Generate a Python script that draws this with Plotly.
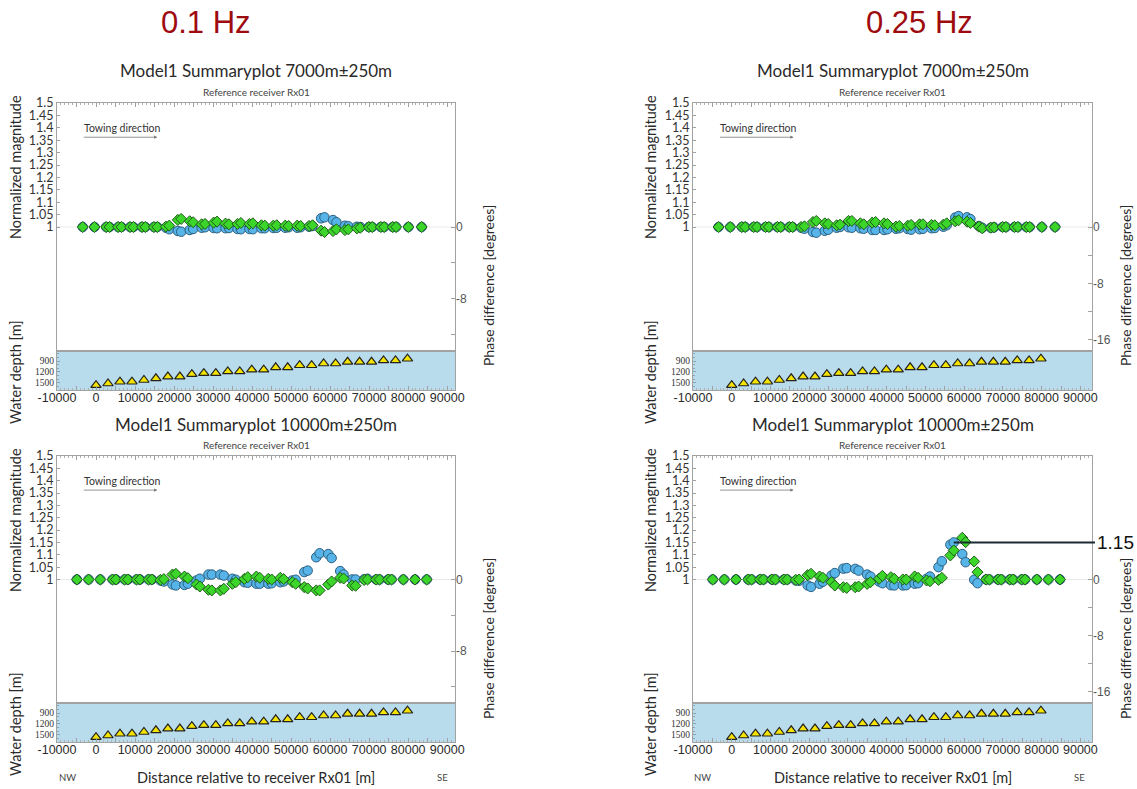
import plotly.graph_objects as go

W, H = 1137, 789

# ---------------- data ----------------
FREQ_LABELS = ["0.1 Hz", "0.25 Hz"]
TITLES = ["Model1 Summaryplot 7000m\u00b1250m", "Model1 Summaryplot 10000m\u00b1250m"]
SUBTITLE = "Reference receiver Rx01"

# receiver positions along the line [m] and seabed depth at each receiver [m]
RX_POS = [0, 3070, 6140, 9210, 12280, 15350, 18420, 21490, 24560, 27630, 30700,
          33770, 36840, 39910, 42980, 46050, 49120, 52190, 55260, 58330, 61400,
          64470, 67540, 70610, 73680, 76750, 79820]
WATER_DEPTH = [1566, 1520, 1471, 1471, 1423, 1377, 1329, 1329, 1263, 1234, 1234,
               1186, 1186, 1137, 1137, 1071, 1071, 1014, 1014, 966, 966,
               920, 920, 920, 880, 880, 834]

# midpoint positions of the source-receiver pairs for each offset class [m]
OFFSET_7000 = [-3400, -400,
               2600, 3470, 5660, 6530, 8720, 9590, 11780, 12650, 14840, 15710,
               17900, 18770, 20960, 21830, 24020, 24890, 27080, 27950, 30140, 31010,
               33200, 34070, 36260, 37130, 39320, 40190, 42380, 43250, 45440, 46310,
               48500, 49370, 51560, 52430, 54620, 55490, 57680, 58550, 60740, 61610,
               63800, 64670, 66860, 67730, 69920, 70790, 72980, 73850, 76040, 76910,
               80050, 83460]
OFFSET_10000 = [-4900, -1900, 1100,
                4250, 5120, 7320, 8190, 10390, 11260, 13460, 14330, 16530, 17400,
                19600, 20470, 22670, 23540, 25740, 26610, 28810, 29680, 31880, 32750,
                34950, 35820, 38020, 38890, 41090, 41960, 44160, 45030, 47230, 48100,
                50300, 51170, 53370, 54240, 56440, 57310, 59510, 60380, 62580, 63450,
                65650, 66520, 68720, 69590, 71790, 72660, 74860, 75730,
                78760, 81750, 84740]

# normalized magnitude and phase difference [degrees]
MAG_7000_F01 = [1.000, 1.000, 1.000, 1.000, 1.000, 1.000, 1.000, 1.000, 1.000, 1.000,
                1.000, 1.000, 0.997, 0.991, 0.984, 0.981, 0.988, 0.992, 0.997, 0.999,
                0.996, 0.995, 0.995, 0.996, 0.992, 0.991, 0.992, 0.991, 0.995, 0.995,
                0.996, 0.997, 0.997, 0.999, 0.997, 0.999, 1.001, 1.004, 1.035, 1.039,
                1.028, 1.019, 1.005, 1.003, 1.001, 1.000, 1.000, 1.000, 1.000, 1.000,
                1.000, 1.000, 1.000, 1.000]
PHASE_7000_F01 = [0.0, 0.0, 0.0, 0.0, 0.0, 0.0, 0.0, 0.0, 0.0, 0.0,
                  0.0, 0.0, 0.04, 0.15, 0.79, 0.90, 0.64, 0.53, 0.30, 0.34,
                  0.49, 0.60, 0.38, 0.30, 0.34, 0.45, 0.34, 0.41, 0.19, 0.15,
                  0.15, 0.19, 0.15, 0.11, 0.15, 0.11, 0.11, 0.19, -0.41, -0.56,
                  -0.45, -0.26, -0.34, -0.26, -0.15, -0.08, 0.0, 0.0, 0.0, 0.0,
                  0.0, 0.0, 0.0, 0.0]
MAG_7000_F025 = [1.000, 1.000, 1.000, 1.000, 1.000, 1.000, 1.000, 1.000, 1.000, 1.000,
                 1.000, 1.000, 0.997, 0.993, 0.980, 0.977, 0.985, 0.989, 0.997, 1.000,
                 0.999, 0.997, 0.995, 0.993, 0.988, 0.988, 0.988, 0.991, 0.993, 0.995,
                 0.992, 0.989, 0.991, 0.993, 0.995, 0.996, 1.001, 1.007, 1.038, 1.044,
                 1.039, 1.032, 1.004, 0.997, 0.997, 0.999, 1.000, 1.000, 1.000, 1.000,
                 1.000, 1.000, 1.000, 1.000]
PHASE_7000_F025 = [0.0, 0.0, 0.0, 0.0, 0.0, 0.0, 0.0, 0.0, 0.0, 0.0,
                   0.0, 0.0, 0.0, 0.10, 0.71, 0.86, 0.52, 0.43, 0.24, 0.33,
                   0.86, 0.86, 0.52, 0.38, 0.62, 0.71, 0.52, 0.43, 0.05, 0.14,
                   0.19, 0.29, 0.38, 0.38, 0.29, 0.24, 0.33, 0.52, 0.81, 0.95,
                   0.76, 0.57, 0.05, -0.19, -0.10, -0.05, 0.0, 0.0, 0.0, 0.0,
                   0.0, 0.0, 0.0, 0.0]
MAG_10000_F01 = [1.000, 1.000, 1.000, 1.000, 1.000, 1.000, 1.000, 1.000, 1.000, 1.000,
                 1.000, 0.996, 0.992, 0.980, 0.976, 0.978, 0.983, 0.996, 1.003, 1.020,
                 1.020, 1.020, 1.016, 1.003, 0.999, 0.989, 0.987, 0.983, 0.983, 0.983,
                 0.985, 0.989, 0.992, 0.996, 0.999, 1.030, 1.036, 1.090, 1.106, 1.103,
                 1.087, 1.034, 1.020, 1.000, 1.000, 1.001, 1.003, 1.000, 1.000, 1.000,
                 1.000, 1.000, 1.000, 1.000]
PHASE_10000_F01 = [0.0, 0.0, 0.0, 0.0, 0.0, 0.0, 0.0, 0.0, 0.0, 0.0,
                   0.0, -0.04, 0.04, 0.56, 0.63, 0.33, 0.15, -0.56, -0.78, -1.15,
                   -1.22, -1.22, -1.04, -0.48, -0.30, 0.07, 0.26, 0.33, 0.19, 0.07,
                   0.0, 0.19, 0.04, -0.30, -0.48, -0.85, -1.00, -1.22, -1.22, -0.56,
                   -0.22, 0.19, 0.11, -0.67, -0.70, -0.04, 0.0, 0.0, 0.0, 0.0,
                   0.0, 0.0, 0.0, 0.0]
MAG_10000_F025 = [1.000, 1.000, 1.000, 1.000, 1.000, 1.000, 1.000, 1.000, 1.000, 1.000,
                  1.000, 0.996, 0.995, 0.976, 0.970, 0.983, 0.991, 1.016, 1.026, 1.044,
                  1.046, 1.043, 1.036, 1.020, 1.012, 0.992, 0.985, 0.977, 0.976, 0.976,
                  0.977, 0.983, 0.985, 1.003, 1.012, 1.050, 1.074, 1.141, 1.150, 1.103,
                  1.070, 0.999, 0.985, 1.000, 1.000, 1.000, 1.000, 1.000, 1.000, 1.000,
                  1.000, 1.000, 1.000, 1.000]
PHASE_10000_F025 = [0.0, 0.0, 0.0, 0.0, 0.0, 0.0, 0.0, 0.0, 0.0, 0.0,
                    0.0, -0.05, 0.0, 0.62, 0.81, 0.43, 0.24, -0.38, -0.86, -1.10,
                    -1.19, -1.10, -1.00, -0.62, -0.38, 0.10, 0.52, 0.33, 0.10, 0.0,
                    0.0, 0.43, 0.24, -0.14, -0.24, -0.05, 0.24, 3.43, 4.14, 5.95,
                    5.33, 2.57, 1.05, 0.0, 0.0, 0.0, 0.0, 0.0, 0.0, 0.0,
                    0.0, 0.0, 0.0, 0.0]

MAG_TICKS = [1.0, 1.05, 1.1, 1.15, 1.2, 1.25, 1.3, 1.35, 1.4, 1.45, 1.5]
MAG_TICK_TEXT = ["1", "1.05", "1.1", "1.15", "1.2", "1.25", "1.3", "1.35", "1.4", "1.45", "1.5"]
DIST_TICKS = [-10000, 0, 10000, 20000, 30000, 40000, 50000, 60000, 70000, 80000, 90000]
DEPTH_TICKS = [900, 1200, 1500]
PHASE_TICKS = [0, -8, -16]

# ---------------- styling ----------------
SANS = "Lato"
ARIAL = "Liberation Sans"
FRAME = "#a2a2a2"
TXT = "#2a2a2a"

COL_X = [(57, 455), (693, 1092)]           # panel left/right in px
ROW_Y = [(103, 351, 390), (456, 703, 742)]  # main top, strip top, strip bottom in px
X_RANGE = [(-10000, 92000), (-10000, 93000)]
PHASE_LIM = [13.8, 17.6]
DEPTH_RANGE = [1700, 620]


def fx(px):
    return px / W


def fy(py):
    return 1 - py / H


def axname(letter, n):
    return f"{letter}axis" if n == 1 else f"{letter}axis{n}"


def axid(letter, n):
    return letter if n == 1 else f"{letter}{n}"


def label(text, px, py, size, color=TXT, family=SANS, angle=0, anchor="center"):
    return dict(text=text, x=fx(px), y=fy(py), xref="paper", yref="paper",
                xanchor=anchor, yanchor="middle", showarrow=False, textangle=angle,
                font=dict(family=family, size=size, color=color))


panels = [
    (0, 0, OFFSET_7000, MAG_7000_F01, PHASE_7000_F01),
    (0, 1, OFFSET_7000, MAG_7000_F025, PHASE_7000_F025),
    (1, 0, OFFSET_10000, MAG_10000_F01, PHASE_10000_F01),
    (1, 1, OFFSET_10000, MAG_10000_F025, PHASE_10000_F025),
]

fig = go.Figure()
layout = dict(width=W, height=H, margin=dict(l=0, r=0, t=0, b=0, autoexpand=False),
              paper_bgcolor="white", plot_bgcolor="white", showlegend=False)
annotations = []
shapes = []

for p, (row, col, offs, mag, phase) in enumerate(panels):
    xa, xb = 2 * p + 1, 2 * p + 2
    ya, yb, yc = 3 * p + 1, 3 * p + 2, 3 * p + 3
    x0, x1 = COL_X[col]
    top, mid, bot = ROW_Y[row]
    xr = list(X_RANGE[col])
    lim = PHASE_LIM[col]
    dom_x = [fx(x0), fx(x1)]

    minor_x = dict(ticks="inside", ticklen=2, tickmode="linear", tick0=0, dtick=1000,
                   tickcolor="#b0b0b0", showgrid=False)
    ruler_vals = list(range(-10000, 95000, 5000))

    # top ruler axis for the magnitude/phase panel
    layout[axname("x", xa)] = dict(
        domain=dom_x, range=xr, anchor=axid("y", ya), side="top", automargin=False,
        showline=True, linecolor=FRAME, linewidth=1, mirror=True,
        ticks="inside", ticklen=4, tickcolor="#a0a0a0", tickmode="array",
        tickvals=ruler_vals, showticklabels=False, minor=minor_x,
        showgrid=False, zeroline=False)
    # bottom distance axis under the water-depth strip
    layout[axname("x", xb)] = dict(
        domain=dom_x, range=xr, anchor=axid("y", yc), side="bottom", automargin=False,
        showline=True, linecolor=FRAME, linewidth=1, mirror=True,
        ticks="inside", ticklen=4, tickcolor="#a0a0a0", tickmode="array",
        tickvals=ruler_vals,
        ticktext=[str(v) if v in DIST_TICKS else "" for v in ruler_vals],
        tickfont=dict(family=ARIAL, size=12.5, color=TXT), ticklabelstandoff=-4,
        minor=minor_x, showgrid=False, zeroline=False)
    # normalized magnitude (left)
    layout[axname("y", ya)] = dict(
        domain=[fy(mid), fy(top)], range=[0.5, 1.5], anchor=axid("x", xa), automargin=False,
        showline=True, linecolor=FRAME, linewidth=1, mirror=True,
        ticks="inside", ticklen=3, tickcolor="#a0a0a0", tickmode="array",
        tickvals=MAG_TICKS, ticktext=MAG_TICK_TEXT,
        tickfont=dict(family=SANS, size=12.5, color="#333333"),
        showgrid=False, zeroline=False)
    # phase difference (right)
    ph_vals = [v for v in [0, -4, -8, -12, -16] if v >= -lim]
    layout[axname("y", yb)] = dict(
        overlaying=axid("y", ya), side="right", anchor=axid("x", xa), automargin=False,
        range=[-lim, lim], showline=False, ticks="inside", ticklen=4,
        tickcolor="#a0a0a0", tickmode="array", tickvals=ph_vals,
        ticktext=[str(v) if v in PHASE_TICKS else "" for v in ph_vals],
        tickfont=dict(family=ARIAL, size=12, color="#555555"),
        showgrid=False, zeroline=False)
    # water depth strip
    layout[axname("y", yc)] = dict(
        domain=[fy(bot), fy(mid)], range=DEPTH_RANGE, anchor=axid("x", xb), automargin=False,
        showline=True, linecolor=FRAME, linewidth=1, mirror=True,
        ticks="inside", ticklen=3, tickcolor="#8aa6b3", tickmode="array",
        tickvals=DEPTH_TICKS, ticktext=[str(v) for v in DEPTH_TICKS],
        tickfont=dict(family="Liberation Serif", size=9.5, color="#333333"),
        minor=dict(ticks="inside", ticklen=2, tickmode="linear", tick0=0, dtick=100,
                   tickcolor="#8aa6b3"),
        showgrid=False, zeroline=False)

    # water fill and reference line at unit magnitude
    shapes.append(dict(type="rect", xref=f"{axid('x', xb)} domain", yref=f"{axid('y', yc)} domain",
                       x0=0, x1=1, y0=0, y1=1, fillcolor="#B9DCEC", line=dict(width=0), layer="below"))
    shapes.append(dict(type="line", xref=f"{axid('x', xa)} domain", yref=axid("y", ya),
                       x0=0, x1=1, y0=1, y1=1, line=dict(color="#e9e9e9", width=1), layer="below"))

    fig.add_trace(go.Scatter(
        x=offs, y=mag, xaxis=axid("x", xa), yaxis=axid("y", ya), mode="markers",
        marker=dict(symbol="circle", size=9.5, color="#56B4E9",
                    line=dict(color="#2D5F7F", width=1))))
    fig.add_trace(go.Scatter(
        x=offs, y=phase, xaxis=axid("x", xa), yaxis=axid("y", yb), mode="markers",
        marker=dict(symbol="diamond", size=8.5, color="#3CD52A",
                    line=dict(color="#1F5B1B", width=1))))
    fig.add_trace(go.Scatter(
        x=RX_POS, y=WATER_DEPTH, xaxis=axid("x", xb), yaxis=axid("y", yc), mode="markers",
        marker=dict(symbol="triangle-up", size=9, color="#F4E400",
                    line=dict(color="#222222", width=1.2))))

    cx = (x0 + x1) / 2
    # titles
    annotations.append(label(TITLES[row], cx, top - 32, 17))
    annotations.append(label(SUBTITLE, cx, top - 11, 10, color="#444444"))
    # towing direction
    annotations.append(dict(text="Towing direction", x=0.063, y=0.9, xref=f"{axid('x', xa)} domain",
                            yref=f"{axid('y', ya)} domain", xanchor="left", yanchor="middle",
                            showarrow=False, font=dict(family=SANS, size=10.5, color="#333333")))
    annotations.append(dict(text="", x=0.252, y=0.862, xref=f"{axid('x', xa)} domain",
                            yref=f"{axid('y', ya)} domain", showarrow=True, ax=-75, ay=0,
                            arrowhead=2, arrowsize=0.8, arrowwidth=0.8, arrowcolor="#777777"))
    # axis titles
    ytx = x0 - 42 if col == 0 else x0 - 43
    annotations.append(label("Normalized magnitude", ytx, top + 64, 14.5, angle=-90))
    annotations.append(label("Water depth [m]", ytx, mid + 21, 14.5, angle=-90))
    annotations.append(label("Phase difference [degrees]", x1 + 33, top + 183, 14, angle=-90))
    if row == 1:
        annotations.append(label("Distance relative to receiver Rx01 [m]", cx, 777, 14.5))
        annotations.append(label("NW", x0 + 10, 777, 9.5, color="#444444"))
        annotations.append(label("SE", x1 - 13, 777, 9.5, color="#444444"))

    # peak magnitude callout on the 10000 m, 0.25 Hz panel
    if row == 1 and col == 1:
        k = max(range(len(mag)), key=lambda i: mag[i])
        peak_px = x0 + (offs[k] - xr[0]) / (xr[1] - xr[0]) * (x1 - x0)
        annotations.append(dict(text=f"{mag[k]:.2f}", x=offs[k], y=mag[k],
                                xref=axid("x", xa), yref=axid("y", ya),
                                showarrow=True, arrowhead=0, arrowwidth=2, arrowcolor="#1c2a33",
                                ax=1095 - peak_px, ay=0, standoff=0,
                                xanchor="left", yanchor="middle",
                                font=dict(family=ARIAL, size=19, color="#111111")))

# frequency headers
for col, text in enumerate(FREQ_LABELS):
    annotations.append(label(text, (206, 919)[col], 23, 31, color="#9E0B0F", family=ARIAL))

layout["annotations"] = annotations
layout["shapes"] = shapes
fig.update_layout(**layout)
fig.write_html("out.html")
